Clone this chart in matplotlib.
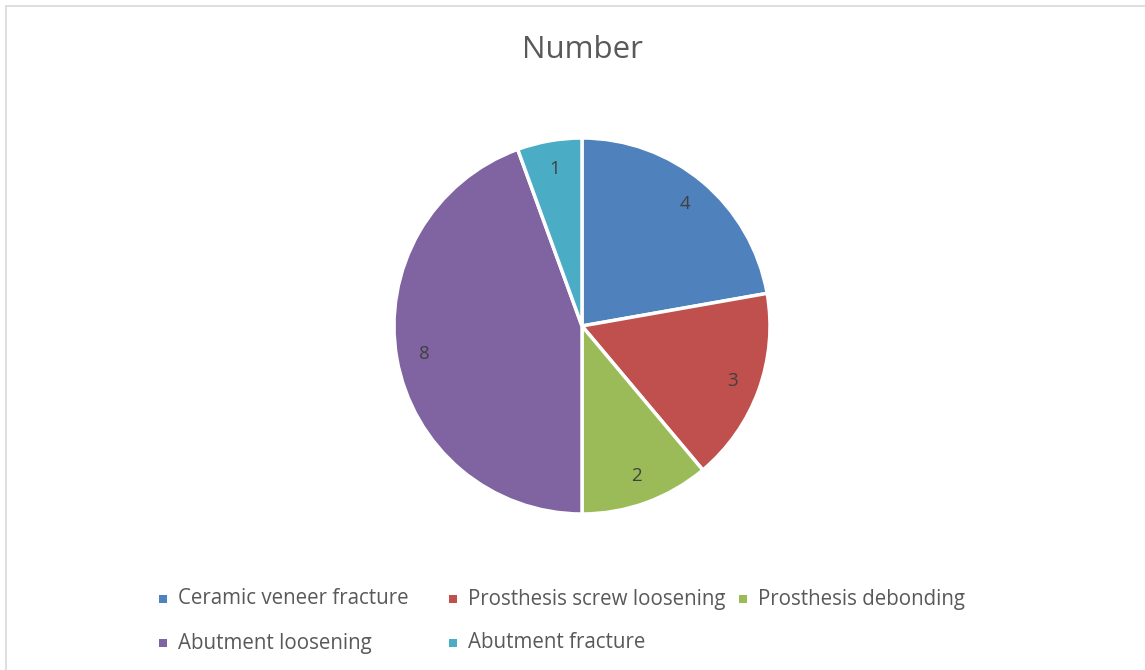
import matplotlib
matplotlib.use('Agg')
import matplotlib.pyplot as plt
from matplotlib.patches import Rectangle
from matplotlib.lines import Line2D

categories = ['Ceramic veneer fracture', 'Prosthesis screw loosening', 'Prosthesis debonding',
              'Abutment loosening', 'Abutment fracture']
values = [4, 3, 2, 8, 1]
colors = ['#4F81BD', '#C0504D', '#9BBB59', '#8064A2', '#4BACC6']

plt.rcParams['font.family'] = ['Open Sans', 'DejaVu Sans']

W, H = 1145, 670
fig = plt.figure(figsize=(W / 100, H / 100), dpi=100)

# chart area border (only top and left visible)
fig.add_artist(Line2D([5.5 / W, 5.5 / W], [0, 1 - 6 / H], color='#d9d9d9', lw=1.2))
fig.add_artist(Line2D([5.5 / W, 1], [1 - 6 / H, 1 - 6 / H], color='#d9d9d9', lw=1.2))

# pie
cx, cy, r = 582, 326, 188
ax = fig.add_axes([(cx - r) / W, 1 - (cy + r) / H, 2 * r / W, 2 * r / H])
total = sum(values)
wedges, texts, autotexts = ax.pie(
    values, colors=colors, startangle=90, counterclock=False,
    wedgeprops=dict(edgecolor='white', linewidth=2.5),
    autopct=lambda p: f'{round(p * total / 100):d}', pctdistance=0.85,
    textprops=dict(color='#404040', fontsize=13.5))
ax.set_xlim(-1, 1)
ax.set_ylim(-1, 1)
ax.set_aspect('equal')
ax.axis('off')

fig.text(cx / W, 1 - 50 / H, 'Number', ha='center', va='center', fontsize=22.5, color='#595959')

# legend laid out like the original: 3 columns, equal widths
col_x = [163, 453, 743]
row_y = [599, 643]
for i, (name, c) in enumerate(zip(categories, colors)):
    x = col_x[i % 3]
    y = row_y[i // 3]
    s = 8
    fig.add_artist(Rectangle(((x - s / 2) / W, 1 - (y + s / 2) / H), s / W, s / H,
                             facecolor=c, edgecolor='none', transform=fig.transFigure))
    fig.text((x + 15) / W, 1 - y / H, name, ha='left', va='center', fontsize=14.8, color='#595959')

fig.savefig('out.png', dpi=100, facecolor='white')
